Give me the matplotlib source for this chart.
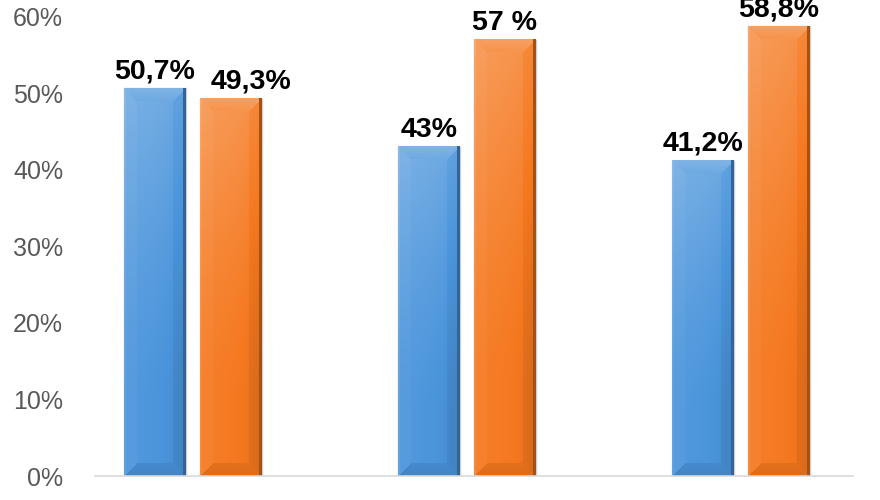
import numpy as np
import matplotlib
matplotlib.use("Agg")
import matplotlib.pyplot as plt

# values
blue_vals = [50.7, 43.0, 41.2]
orange_vals = [49.3, 57.0, 58.8]
blue_labels = ["50,7%", "43%", "41,2%"]
orange_labels = ["49,3%", "57 %", "58,8%"]
y_ticks = [0, 10, 20, 30, 40, 50, 60]
y_tick_labels = ["0%", "10%", "20%", "30%", "40%", "50%", "60%"]

BLUE = np.array([0.29, 0.58, 0.86])
ORANGE = np.array([0.96, 0.47, 0.12])


def shade(base, f):
    # f>0 -> towards white, f<0 -> towards black
    f = f[..., None]
    return np.where(f > 0, base + f * (1 - base), base * (1 + f))


def bevel_image(w_px, h_px, base, b=13):
    w_px = max(int(round(w_px)), 2)
    h_px = max(int(round(h_px)), 2)
    X, Y = np.meshgrid(np.arange(w_px) + 0.5, np.arange(h_px) + 0.5)
    d = np.stack([Y, X, w_px - X, h_px - Y])
    idx = np.argmin(d, axis=0)
    dmin = np.min(d, axis=0)
    # body: lighter towards the top, a little darker to the right
    f = 0.22 * np.clip(1 - Y / (0.8 * h_px), 0, 1) ** 1.5
    f = f + 0.04 - 0.10 * (X / w_px) ** 2
    edge = dmin < b
    top = edge & (idx == 0)
    f = np.where(top, 0.30 - 0.10 * (Y / b), f)
    f = np.where(edge & (idx == 1), f + 0.03, f)
    f = np.where(edge & (idx == 2), f - 0.06, f)
    f = np.where(edge & (idx == 3), -0.10 + 0.04 * ((h_px - Y) / b), f)
    # thin dark rim on the right, light rim on the left
    f = np.where(w_px - X < 3, -0.32, f)
    f = np.where(X < 2, f + 0.06, f)
    return np.clip(shade(base, f), 0, 1)


fig = plt.figure(figsize=(8.8, 5), dpi=100)
ax = fig.add_axes([95 / 880, 24 / 500, (853 - 95) / 880, 476 / 500])

x = np.arange(len(blue_vals))
width = 0.226
off = 0.139

ax.set_xlim(-0.358, 2.41)
ax.set_ylim(0, 62.2)

bars_b = ax.bar(x - off, blue_vals, width, color=BLUE, edgecolor="#cfcfcf", linewidth=1.0, zorder=2)
bars_o = ax.bar(x + off, orange_vals, width, color=ORANGE, edgecolor="#cfcfcf", linewidth=1.0, zorder=2)

fig.canvas.draw()
for bars, base in [(bars_b, BLUE), (bars_o, ORANGE)]:
    for p in bars:
        x0, y0 = p.get_x(), p.get_y()
        x1, y1 = x0 + p.get_width(), y0 + p.get_height()
        (px0, py0), (px1, py1) = ax.transData.transform([(x0, y0), (x1, y1)])
        img = bevel_image(px1 - px0, py1 - py0, base)
        ax.imshow(img, extent=(x0, x1, y0, y1), aspect="auto", origin="upper",
                  interpolation="bilinear", zorder=3)

ax.set_xlim(-0.358, 2.41)
ax.set_ylim(0, 62.2)

lab_font = dict(family="Liberation Sans", fontsize=20.5, fontweight="bold", color="black")
for bars, labels in [(bars_b, blue_labels), (bars_o, orange_labels)]:
    for i, (p, t) in enumerate(zip(bars, labels)):
        dx = 14 if (labels is orange_labels and i == 0) else 0
        ax.annotate(t, (p.get_x() + p.get_width() / 2, p.get_height()),
                    xytext=(dx, 7), textcoords="offset points",
                    ha="center", va="baseline", annotation_clip=False, zorder=5, **lab_font)

ax.set_yticks(y_ticks)
ax.set_yticklabels(y_tick_labels, family="Liberation Sans", fontsize=18, color="#595959")
ax.tick_params(axis="y", length=0, pad=23)
ax.set_xticks([])
for s in ["top", "right", "left"]:
    ax.spines[s].set_visible(False)
ax.spines["bottom"].set_color("#d9d9d9")
ax.spines["bottom"].set_linewidth(1.2)
ax.spines["bottom"].set_zorder(4)

fig.savefig("out.png", dpi=100)
